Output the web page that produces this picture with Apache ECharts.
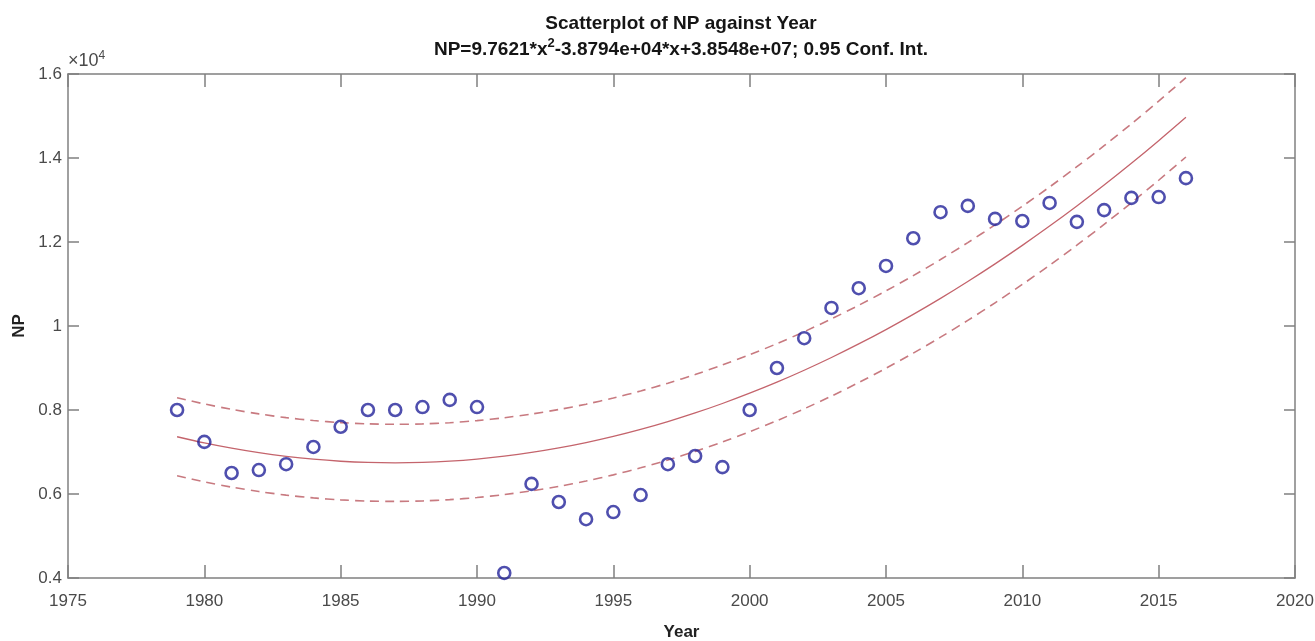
<!DOCTYPE html>
<html>
<head>
<meta charset="utf-8">
<script src="https://cdn.jsdelivr.net/npm/echarts@6/dist/echarts.min.js"></script>
<style>
html,body{margin:0;padding:0;background:#fff;}
#main{width:1315px;height:641px;}
</style>
</head>
<body>
<div id="main"></div>
<script>
const years = [1979,1980,1981,1982,1983,1984,1985,1986,1987,1988,1989,1990,1991,1992,1993,1994,1995,1996,1997,1998,1999,2000,2001,2002,2003,2004,2005,2006,2007,2008,2009,2010,2011,2012,2013,2014,2015,2016];
const npValues = [8000,7240,6500,6570,6710,7120,7600,8000,8000,8070,8240,8070,4120,6240,5810,5400,5570,5975,6710,6905,6640,8000,9000,9710,10430,10900,11430,12090,12710,12860,12550,12500,12930,12480,12760,13050,13070,13520];
// Fitted curve and 0.95 confidence bounds (at each year)
const fitValues = [7363,7216,7090,6983,6896,6828,6780,6751,6742,6752,6782,6832,6901,6989,7097,7224,7371,7538,7724,7930,8155,8400,8663,8947,9250,9573,9915,10277,10658,11060,11480,11920,12379,12858,13356,13874,14412,14969];
const upperValues = [8293,8144,8016,7907,7818,7749,7700,7670,7660,7669,7698,7748,7816,7904,8012,8139,8286,8453,8639,8845,9071,9316,9580,9865,10169,10493,10836,11199,11582,11986,12408,12850,13311,13792,14292,14813,15354,15914];
const lowerValues = [6433,6288,6164,6059,5974,5907,5860,5832,5824,5835,5866,5916,5986,6074,6182,6309,6456,6623,6809,7015,7239,7484,7746,8029,8331,8653,8994,9355,9734,10134,10552,10990,11447,11924,12420,12935,13470,14024];
const xTicks = [1975,1980,1985,1990,1995,2000,2005,2010,2015,2020];
const yTicks = ['0.4','0.6','0.8','1','1.2','1.4','1.6'];

const zip = (xs, ys) => xs.map((x, i) => [x, ys[i]]);

const axisColor = '#808080';
const labelColor = '#4a4a4a';
const fontFam = '"Liberation Sans", Arial, Helvetica, sans-serif';
const lineColor = '#c4646c';

const chart = echarts.init(document.getElementById('main'), null, {renderer: 'canvas'});
chart.setOption({
  animation: false,
  backgroundColor: '#ffffff',
  title: {
    left: 676, top: 6, textAlign: 'center',
    text: '{t|Scatterplot of NP against Year}\n{t|NP=9.7621*x}{sup|2}{t|-3.8794e+04*x+3.8548e+07; 0.95 Conf. Int.}',
    textStyle: {
      rich: {
        t: {fontFamily: fontFam, fontSize: 19, fontWeight: 'bold', color: '#151515', lineHeight: 26},
        sup: {fontFamily: fontFam, fontSize: 13, fontWeight: 'bold', color: '#151515', lineHeight: 14, verticalAlign: 'top'}
      }
    }
  },
  graphic: [
    {
      type: 'text', left: 68, top: 50,
      style: {
        text: '{a|\u00d710}{b|4}',
        rich: {
          a: {fontFamily: fontFam, fontSize: 18, fill: labelColor, lineHeight: 22},
          b: {fontFamily: fontFam, fontSize: 12, fill: labelColor, lineHeight: 12, verticalAlign: 'top'}
        }
      }
    }
  ],
  grid: {left: 68, right: 20, top: 74, bottom: 63, containLabel: false, outerBoundsMode: 'none'},
  xAxis: [
    {
      type: 'value', min: xTicks[0], max: xTicks[xTicks.length - 1], interval: 5,
      name: 'Year', nameLocation: 'middle', nameGap: 46,
      nameTextStyle: {fontFamily: fontFam, fontSize: 17, fontWeight: 'bold', color: '#222'},
      axisLine: {show: true, onZero: false, lineStyle: {color: axisColor, width: 1.5}},
      axisTick: {show: true, inside: true, length: 13, lineStyle: {color: axisColor, width: 1.5}},
      axisLabel: {fontFamily: fontFam, fontSize: 17, color: labelColor, margin: 15,
        formatter: v => String(v), showMinLabel: true, showMaxLabel: true},
      splitLine: {show: false}
    },
    {
      type: 'value', position: 'top', min: xTicks[0], max: xTicks[xTicks.length - 1], interval: 5,
      axisLine: {show: true, onZero: false, lineStyle: {color: axisColor, width: 1.5}},
      axisTick: {show: true, inside: true, length: 13, lineStyle: {color: axisColor, width: 1.5}},
      axisLabel: {show: false}, splitLine: {show: false}
    }
  ],
  yAxis: [
    {
      type: 'value', min: 4000, max: 16000, interval: 2000,
      name: 'NP', nameLocation: 'middle', nameGap: 37, nameRotate: 90,
      nameTextStyle: {fontFamily: fontFam, fontSize: 17, fontWeight: 'bold', color: '#222'},
      axisLine: {show: true, onZero: false, lineStyle: {color: axisColor, width: 1.5}},
      axisTick: {show: true, inside: true, length: 11, lineStyle: {color: axisColor, width: 1.5}},
      axisLabel: {fontFamily: fontFam, fontSize: 17, color: labelColor, margin: 6,
        formatter: (v) => yTicks[Math.round((v - 4000) / 2000)]},
      splitLine: {show: false}
    },
    {
      type: 'value', position: 'right', min: 4000, max: 16000, interval: 2000,
      axisLine: {show: true, onZero: false, lineStyle: {color: axisColor, width: 1.5}},
      axisTick: {show: true, inside: true, length: 11, lineStyle: {color: axisColor, width: 1.5}},
      axisLabel: {show: false}, splitLine: {show: false}
    }
  ],
  series: [
    {
      type: 'line', name: 'fit', data: zip(years, fitValues), xAxisIndex: 0, yAxisIndex: 0,
      showSymbol: false, smooth: 0.3,
      lineStyle: {color: lineColor, width: 1.3}, z: 2
    },
    {
      type: 'line', name: 'upper', data: zip(years, upperValues), xAxisIndex: 0, yAxisIndex: 0,
      showSymbol: false, smooth: 0.3,
      lineStyle: {color: '#c87a80', width: 1.6, type: [9, 6]}, z: 2
    },
    {
      type: 'line', name: 'lower', data: zip(years, lowerValues), xAxisIndex: 0, yAxisIndex: 0,
      showSymbol: false, smooth: 0.3,
      lineStyle: {color: '#c87a80', width: 1.6, type: [9, 6]}, z: 2
    },
    {
      type: 'scatter', name: 'NP', data: zip(years, npValues), xAxisIndex: 0, yAxisIndex: 0,
      symbol: 'circle', symbolSize: 12,
      itemStyle: {color: 'rgba(0,0,0,0)', borderColor: '#23239a', borderWidth: 2.6}, z: 3
    }
  ]
});
</script>
</body>
</html>
